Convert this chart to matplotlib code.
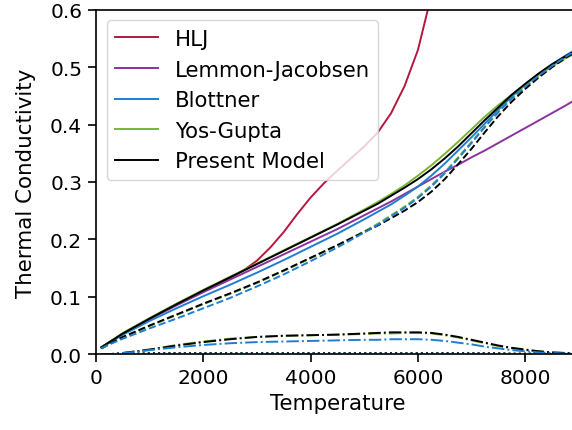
import numpy as np
import matplotlib.pyplot as plt

# temperature grid the conductivities were tabulated on
temperature = np.array([100, 250, 500, 750, 1000, 1500, 2000, 2500, 3000, 3500, 4000, 4500,
                        5000, 5250, 5500, 5750, 6000, 6250, 6500, 6750, 7000, 7250, 7500,
                        7750, 8000, 8250, 8500, 8750, 9000])

# total thermal conductivity per model
k_lemmon = np.array([0.012, 0.021, 0.035, 0.048, 0.061, 0.085, 0.108, 0.130, 0.152, 0.174, 0.196, 0.218,
                     0.242, 0.254, 0.266, 0.279, 0.292, 0.305, 0.318, 0.330, 0.343, 0.355, 0.368,
                     0.381, 0.394, 0.407, 0.420, 0.433, 0.447])
k_blottner = np.array([0.011, 0.020, 0.034, 0.046, 0.058, 0.080, 0.101, 0.121, 0.142, 0.164, 0.187, 0.210,
                       0.235, 0.248, 0.261, 0.276, 0.292, 0.311, 0.332, 0.355, 0.378, 0.402, 0.426,
                       0.449, 0.469, 0.488, 0.505, 0.520, 0.534])
k_yos = np.array([0.012, 0.021, 0.037, 0.050, 0.063, 0.088, 0.112, 0.135, 0.158, 0.181, 0.204, 0.227,
                  0.252, 0.265, 0.279, 0.294, 0.311, 0.329, 0.349, 0.370, 0.392, 0.414, 0.434,
                  0.452, 0.469, 0.486, 0.502, 0.516, 0.529])
k_present = np.array([0.012, 0.021, 0.036, 0.049, 0.062, 0.087, 0.111, 0.134, 0.157, 0.180, 0.203, 0.226,
                      0.250, 0.262, 0.276, 0.290, 0.305, 0.322, 0.341, 0.362, 0.385, 0.408, 0.430,
                      0.452, 0.471, 0.489, 0.505, 0.519, 0.532])

# HLJ runs off the top of the axes, so it has its own shorter grid
temperature_hlj = np.array([100, 250, 500, 750, 1000, 1500, 2000, 2500, 2750, 3000, 3250, 3500,
                            3750, 4000, 4250, 4500, 4750, 5000, 5250, 5500, 5750, 6000, 6250, 6500])
k_hlj = np.array([0.012, 0.021, 0.036, 0.049, 0.062, 0.087, 0.110, 0.133, 0.146, 0.163, 0.186, 0.213,
                  0.244, 0.273, 0.298, 0.320, 0.341, 0.362, 0.386, 0.420, 0.467, 0.530, 0.625, 0.720])

# translational part (dashed)
kt_blottner = np.array([0.010, 0.017, 0.027, 0.036, 0.045, 0.062, 0.080, 0.098, 0.118, 0.139, 0.162, 0.186,
                        0.212, 0.225, 0.240, 0.255, 0.272, 0.292, 0.315, 0.341, 0.368, 0.396, 0.422,
                        0.446, 0.466, 0.485, 0.502, 0.518, 0.532])
kt_yos = np.array([0.010, 0.018, 0.029, 0.039, 0.049, 0.068, 0.087, 0.105, 0.124, 0.145, 0.167, 0.190,
                   0.214, 0.227, 0.242, 0.257, 0.274, 0.294, 0.317, 0.343, 0.370, 0.397, 0.422,
                   0.445, 0.465, 0.483, 0.500, 0.515, 0.529])
kt_present = np.array([0.010, 0.018, 0.030, 0.040, 0.050, 0.069, 0.088, 0.106, 0.125, 0.146, 0.168, 0.190,
                       0.213, 0.224, 0.237, 0.250, 0.265, 0.283, 0.305, 0.331, 0.358, 0.387, 0.415,
                       0.440, 0.462, 0.482, 0.500, 0.516, 0.530])

# reactive part (dash-dot)
kr_blottner = np.array([0.000, 0.000, 0.002, 0.004, 0.007, 0.012, 0.016, 0.019, 0.021, 0.022, 0.023, 0.024,
                        0.025, 0.025, 0.026, 0.026, 0.026, 0.025, 0.023, 0.020, 0.017, 0.013, 0.010,
                        0.007, 0.005, 0.003, 0.002, 0.001, 0.001])
kr_yos = np.array([0.000, 0.000, 0.002, 0.005, 0.008, 0.016, 0.022, 0.027, 0.030, 0.032, 0.033, 0.034,
                   0.035, 0.036, 0.036, 0.037, 0.037, 0.036, 0.033, 0.029, 0.024, 0.019, 0.014,
                   0.010, 0.007, 0.005, 0.003, 0.002, 0.001])
kr_present = np.array([0.000, 0.000, 0.002, 0.005, 0.008, 0.015, 0.021, 0.026, 0.030, 0.032, 0.033, 0.034,
                       0.036, 0.037, 0.038, 0.038, 0.038, 0.037, 0.034, 0.030, 0.025, 0.020, 0.015,
                       0.011, 0.008, 0.005, 0.003, 0.002, 0.001])

# internal part (dotted)
ki_blottner = np.array([0.000, 0.000, 0.000, 0.001, 0.001, 0.001, 0.001, 0.001, 0.001, 0.001, 0.001, 0.001,
                        0.001, 0.001, 0.001, 0.001, 0.001, 0.001, 0.001, 0.001, 0.001, 0.001, 0.001,
                        0.000, 0.000, 0.000, 0.000, 0.000, 0.000])
ki_yos = np.array([0.000, 0.000, 0.001, 0.001, 0.001, 0.002, 0.002, 0.002, 0.002, 0.002, 0.002, 0.002,
                   0.002, 0.002, 0.002, 0.002, 0.002, 0.002, 0.002, 0.002, 0.001, 0.001, 0.001,
                   0.001, 0.001, 0.000, 0.000, 0.000, 0.000])
ki_present = np.array([0.000, 0.000, 0.001, 0.001, 0.002, 0.002, 0.002, 0.002, 0.002, 0.002, 0.002, 0.002,
                       0.002, 0.002, 0.002, 0.002, 0.002, 0.002, 0.002, 0.002, 0.002, 0.002, 0.002,
                       0.001, 0.001, 0.001, 0.000, 0.000, 0.000])

RED = '#b5173f'
PURPLE = '#8a33a0'
BLUE = '#1f7ed0'
GREEN = '#7ab535'

plt.rcParams['font.family'] = 'DejaVu Sans'

fig = plt.figure(figsize=(5.72, 4.31), dpi=100)
ax = fig.add_axes([0.168, 0.176, 0.844, 0.799])

lw = 1.4
ax.plot(temperature_hlj, k_hlj, color=RED, lw=lw, label='HLJ')
ax.plot(temperature, k_lemmon, color=PURPLE, lw=lw, label='Lemmon-Jacobsen')
ax.plot(temperature, k_blottner, color=BLUE, lw=lw, label='Blottner')
ax.plot(temperature, k_yos, color=GREEN, lw=lw, label='Yos-Gupta')
ax.plot(temperature, k_present, color='k', lw=lw, label='Present Model')

for color, kt, kr, ki in [(GREEN, kt_yos, kr_yos, ki_yos),
                          ('k', kt_present, kr_present, ki_present),
                          (BLUE, kt_blottner, kr_blottner, ki_blottner)]:
    ax.plot(temperature, kt, color=color, lw=lw, ls='--')
    ax.plot(temperature, kr, color=color, lw=lw, ls='-.')
    ax.plot(temperature, ki, color=color, lw=lw, ls=':')

ax.set_xlim(0, 9000)
ax.set_ylim(0, 0.6)
ax.set_xticks([0, 2000, 4000, 6000, 8000])
ax.set_yticks([0.0, 0.1, 0.2, 0.3, 0.4, 0.5, 0.6])
ax.tick_params(labelsize=14.5, width=1.2, length=5.5, pad=4.5)
ax.set_xlabel('Temperature', fontsize=15.4)
ax.set_ylabel('Thermal Conductivity', fontsize=15.4, labelpad=10)
for s in ax.spines.values():
    s.set_linewidth(1.2)

ax.legend(loc='upper left', fontsize=15.3, handlelength=2.0)

fig.savefig('out.png', dpi=100)
